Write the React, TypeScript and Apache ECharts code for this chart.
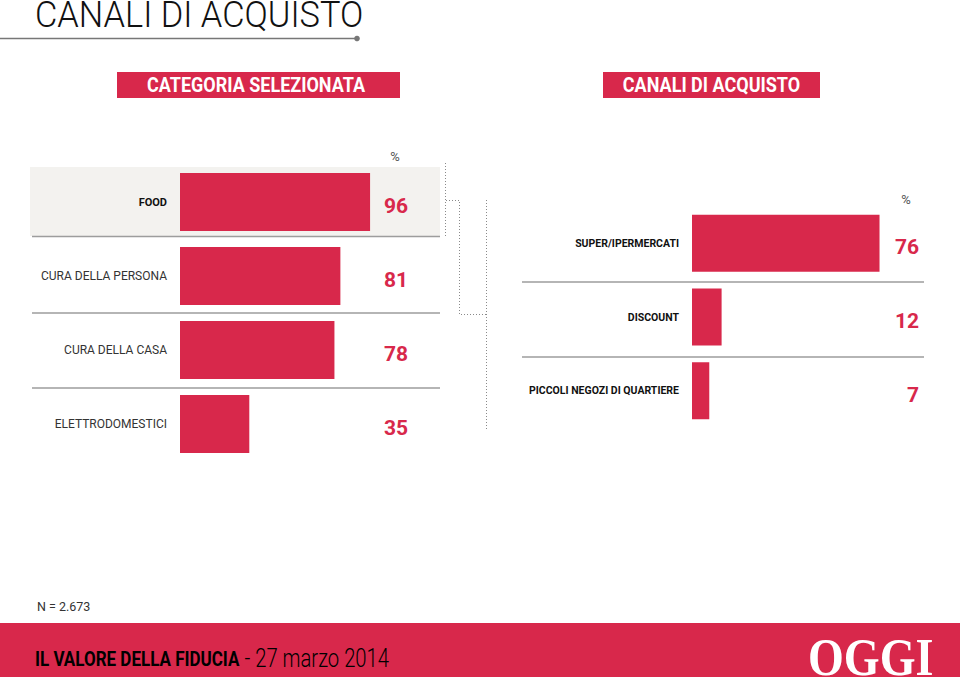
import React, { useEffect, useRef } from "react";
import * as echarts from "echarts";

const RED = "#d8284b";
const FONT = "Roboto, 'Noto Sans', sans-serif";

const leftCategories = ["FOOD", "CURA DELLA PERSONA", "CURA DELLA CASA", "ELETTRODOMESTICI"];
const leftValues = [96, 81, 78, 35];
const selectedCategory = "FOOD";

const rightCategories = ["SUPER/IPERMERCATI", "DISCOUNT", "PICCOLI NEGOZI DI QUARTIERE"];
const rightValues = [76, 12, 7];

const titleText = "CANALI DI ACQUISTO";
const leftHeader = "CATEGORIA SELEZIONATA";
const rightHeader = "CANALI DI ACQUISTO";
const sampleNote = "N = 2.673";
const footerBold = "IL VALORE DELLA FIDUCIA";
const footerLight = " - 27 marzo 2014";
const logoText = "OGGI";

export default function App() {
  const ref = useRef<HTMLDivElement>(null);
  useEffect(() => {
    if (!ref.current) return;
    const chart = echarts.init(ref.current, null, { renderer: "svg" });
    const dotted = { stroke: "#8a8a8a", lineWidth: 1, lineDash: [1, 2], fill: null };
    const sep = { stroke: "#9d9d9d", lineWidth: 1.5 };
    const hidden = { axisLine: { show: false }, axisTick: { show: false }, splitLine: { show: false } };
    const valueRich = { v: { fontFamily: FONT, fontSize: 21, fontWeight: "bold", color: RED, padding: [8, 0, 0, 0] } };
    chart.setOption({
      animation: false,
      backgroundColor: "#ffffff",
      grid: [
        { left: 180, top: 165, width: 198, height: 296 },
        { left: 692, top: 206.5, width: 227, height: 221 },
      ],
      xAxis: [
        { type: "value", gridIndex: 0, min: 0, max: 100, show: false },
        { type: "value", gridIndex: 1, min: 0, max: 92, show: false },
      ],
      yAxis: [
        {
          type: "category", gridIndex: 0, data: leftCategories, inverse: true, ...hidden,
          axisLabel: {
            margin: 13,
            formatter: (v: string) => (v === selectedCategory ? `{b|${v}}` : `{n|${v}}`),
            rich: {
              b: { fontFamily: FONT, fontSize: 11, fontWeight: "bold", color: "#111" },
              n: { fontFamily: FONT, fontSize: 12, color: "#333" },
            },
          },
        },
        {
          type: "category", gridIndex: 0, position: "right", inverse: true,
          data: leftValues.map(String), ...hidden,
          axisLabel: { margin: 30, align: "right", formatter: (v: string) => `{v|${v}}`, rich: valueRich },
        },
        {
          type: "category", gridIndex: 1, data: rightCategories, inverse: true, ...hidden,
          axisLabel: { margin: 13, fontFamily: FONT, fontSize: 10.5, fontWeight: "bold", color: "#111" },
        },
        {
          type: "category", gridIndex: 1, position: "right", inverse: true,
          data: rightValues.map(String), ...hidden,
          axisLabel: { margin: 0, align: "right", formatter: (v: string) => `{v|${v}}`, rich: valueRich },
        },
      ],
      series: [
        { type: "bar", xAxisIndex: 0, yAxisIndex: 0, data: leftValues, barWidth: 58, itemStyle: { color: RED }, z: 3 },
        { type: "bar", xAxisIndex: 1, yAxisIndex: 2, data: rightValues, barWidth: 57, itemStyle: { color: RED }, z: 3 },
      ],
      graphic: [
        { type: "rect", z: 0, silent: true, shape: { x: 30, y: 167, width: 410, height: 69 }, style: { fill: "#f3f2ef" } },
        { type: "text", x: 35, y: 14.5, scaleX: 0.93, style: { text: titleText, fontFamily: FONT, fontSize: 37, lineHeight: 28, fontWeight: 300, fill: "#111", verticalAlign: "middle" } },
        { type: "line", shape: { x1: 0, y1: 38.5, x2: 357, y2: 38.5 }, style: { stroke: "#777", lineWidth: 1.5 } },
        { type: "circle", shape: { cx: 357, cy: 38.5, r: 2.8 }, style: { fill: "#777" } },
        { type: "rect", shape: { x: 117, y: 72, width: 283, height: 26 }, style: { fill: RED } },
        { type: "text", x: 256, y: 85, scaleX: 0.9, style: { text: leftHeader, fontFamily: FONT, fontSize: 20, fontWeight: "bold", fill: "#fff", align: "center", verticalAlign: "middle" } },
        { type: "rect", shape: { x: 603, y: 72, width: 217, height: 26 }, style: { fill: RED } },
        { type: "text", x: 711.5, y: 85, scaleX: 0.9, style: { text: rightHeader, fontFamily: FONT, fontSize: 20, fontWeight: "bold", fill: "#fff", align: "center", verticalAlign: "middle" } },
        { type: "text", x: 395, y: 156, style: { text: "%", fontFamily: FONT, fontSize: 13, fill: "#555", align: "center", verticalAlign: "middle" } },
        { type: "text", x: 906, y: 199, style: { text: "%", fontFamily: FONT, fontSize: 13, fill: "#555", align: "center", verticalAlign: "middle" } },
        { type: "line", shape: { x1: 32, y1: 236.5, x2: 440, y2: 236.5 }, style: sep },
        { type: "line", shape: { x1: 32, y1: 313, x2: 440, y2: 313 }, style: sep },
        { type: "line", shape: { x1: 32, y1: 388, x2: 440, y2: 388 }, style: sep },
        { type: "line", shape: { x1: 522, y1: 282, x2: 924, y2: 282 }, style: sep },
        { type: "line", shape: { x1: 522, y1: 357, x2: 924, y2: 357 }, style: sep },
        { type: "line", shape: { x1: 445.5, y1: 163, x2: 445.5, y2: 237 }, style: dotted },
        { type: "polyline", shape: { points: [[446, 200.5], [459.5, 200.5], [459.5, 314.5], [486, 314.5]] }, style: dotted },
        { type: "line", shape: { x1: 486.5, y1: 200, x2: 486.5, y2: 430 }, style: dotted },
        { type: "text", x: 37, y: 606, style: { text: sampleNote, fontFamily: FONT, fontSize: 12.5, fill: "#333", verticalAlign: "middle" } },
        { type: "rect", shape: { x: 0, y: 623, width: 960, height: 54 }, style: { fill: RED } },
        {
          type: "text", x: 35, y: 659, scaleX: 0.81,
          style: {
            text: `{b|${footerBold}}{l|${footerLight}}`, verticalAlign: "middle",
            rich: {
              b: { fontFamily: FONT, fontSize: 21, fontWeight: "bold", color: "#fff" },
              l: { fontFamily: FONT, fontSize: 25, fontWeight: 300, color: "#fff" },
            },
          },
        },
        {
          type: "text", x: 808, y: 657, scaleX: 0.96, scaleY: 1.1,
          style: { text: logoText, fontFamily: "'Liberation Serif', 'DejaVu Serif', serif", fontSize: 48, lineHeight: 34, fontWeight: "bold", fill: "#fff", verticalAlign: "middle" },
        },
      ],
    });
    return () => chart.dispose();
  }, []);
  return <div ref={ref} style={{ position: "fixed", left: 0, top: 0, width: 960, height: 677 }} />;
}
